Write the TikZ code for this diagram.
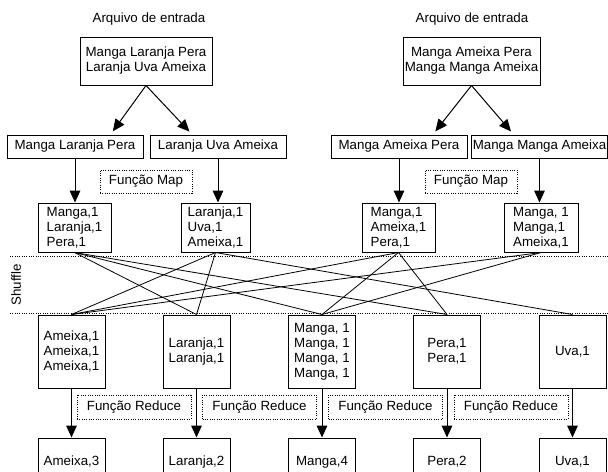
\documentclass[tikz,border=0pt]{standalone}
\usepackage{fontspec}
\setmainfont{Liberation Sans}
\usepackage{tikz}
\usetikzlibrary{arrows.meta,calc}
\tikzset{
  bx/.style={draw,line width=0.75pt,align=center,inner sep=1pt,font=\fontsize{10}{11.25}\selectfont},
  lbl/.style={draw,densely dotted,line width=0.75pt,inner sep=1pt},
  ar/.style={-{Triangle[length=9pt,width=8pt]},line width=0.75pt},
  shf/.style={line width=0.6pt},
  sep/.style={densely dotted,line width=0.75pt}
}

\begin{document}
\begin{tikzpicture}[x=0.75pt,y=-0.75pt]
\useasboundingbox (0,0) rectangle (608,472);
% arquivos de entrada
\node (t1) at (149,19) {Arquivo de entrada};
\node (t2) at (472,19) {Arquivo de entrada};
\node[bx,minimum width=99pt,minimum height=36pt] (in1) at (146,61) {Manga Laranja Pera\\Laranja Uva Ameixa};
\node[bx,minimum width=102.75pt,minimum height=36pt] (in2) at (471.5,61) {Manga Ameixa Pera\\Manga Manga Ameixa};
% divisao
\node[bx,minimum width=102pt,minimum height=17.25pt] (s1) at (75,146.5) {Manga Laranja Pera};
\node[bx,minimum width=102pt,minimum height=17.25pt] (s2) at (218,146.5) {Laranja Uva Ameixa};
\node[bx,minimum width=102pt,minimum height=17.25pt] (s3) at (399,146.5) {Manga Ameixa Pera};
\node[bx,minimum width=101.25pt,minimum height=17.25pt] (s4) at (539.5,146.5) {Manga Manga Ameixa};
\draw[ar,shorten >=3pt] (in1.south) -- ([xshift=-24.75pt]s1.north east);
\draw[ar,shorten >=3pt] (in1.south) -- ([xshift=32pt]s2.north west);
\draw[ar,shorten >=3pt] (in2.south) -- ([xshift=-26pt]s3.north east);
\draw[ar,shorten >=3pt] (in2.south) -- ([xshift=32pt]s4.north west);
% map
\node[lbl,minimum width=69pt,minimum height=17.25pt] (f1) at (146,181.5) {Função Map};
\node[lbl,minimum width=69pt,minimum height=17.25pt] (f2) at (471,181.5) {Função Map};
\node[bx,align=left,minimum width=54.75pt,minimum height=36.75pt] (m1) at (74.5,227.5) {Manga,1\\Laranja,1\\Pera,1};
\node[bx,align=left,minimum width=51.75pt,minimum height=36.75pt] (m2) at (215.5,227.5) {Laranja,1\\Uva,1\\Ameixa,1};
\node[bx,align=left,minimum width=54.75pt,minimum height=36.75pt] (m3) at (398.5,227.5) {Manga,1\\Ameixa,1\\Pera,1};
\node[bx,align=left,minimum width=55.5pt,minimum height=36.75pt] (m4) at (541,227.5) {Manga, 1\\Manga,1\\Ameixa,1};
\draw[ar] (s1.south) -- (s1.south |- m1.north);
\draw[ar] (s2.south) -- (s2.south |- m2.north);
\draw[ar] (s3.south) -- (s3.south |- m3.north);
\draw[ar] (s4.south) -- (s4.south |- m4.north);
% shuffle
\draw[sep] (10,256) -- (608,256);
\draw[sep] (10,313) -- (608,313);
\node[rotate=90] (sh) at (16,285) {Shuffle};
\node[bx,minimum width=50.25pt,minimum height=54.75pt] (r1) at (71.5,351.5) {Ameixa,1\\Ameixa,1\\Ameixa,1};
\node[bx,minimum width=50.25pt,minimum height=54.75pt] (r2) at (196.5,351.5) {Laranja,1\\Laranja,1};
\node[bx,minimum width=50.25pt,minimum height=54.75pt] (r3) at (322,351.5) {Manga, 1\\Manga, 1\\Manga, 1\\Manga, 1};
\node[bx,minimum width=50.25pt,minimum height=54.75pt] (r4) at (447,351.5) {Pera,1\\Pera,1};
\node[bx,minimum width=50.25pt,minimum height=54.75pt] (r5) at (572.5,351.5) {Uva,1};
\foreach \a/\b in {m1/r2,m1/r3,m1/r4,m2/r1,m2/r2,m2/r5,m3/r1,m3/r3,m3/r4,m4/r1,m4/r3}
  \draw[shf] (\a.south) -- (\b.north);
% reduce
\node[lbl,minimum width=85.5pt,minimum height=18pt] (g1) at (134,407) {Função Reduce};
\node[lbl,minimum width=85.5pt,minimum height=18pt] (g2) at (259.5,407) {Função Reduce};
\node[lbl,minimum width=85.5pt,minimum height=18pt] (g3) at (385.5,407) {Função Reduce};
\node[lbl,minimum width=85.5pt,minimum height=18pt] (g4) at (511,407) {Função Reduce};
\node[bx,minimum width=50.25pt,minimum height=36pt] (o1) at (71.5,462) {Ameixa,3};
\node[bx,minimum width=50.25pt,minimum height=36pt] (o2) at (196.5,462) {Laranja,2};
\node[bx,minimum width=50.25pt,minimum height=36pt] (o3) at (322,462) {Manga,4};
\node[bx,minimum width=50.25pt,minimum height=36pt] (o4) at (447,462) {Pera,2};
\node[bx,minimum width=50.25pt,minimum height=36pt] (o5) at (572.5,462) {Uva,1};
\draw[ar] (r1.south) -- (o1.north);
\draw[ar] (r2.south) -- (o2.north);
\draw[ar] (r3.south) -- (o3.north);
\draw[ar] (r4.south) -- (o4.north);
\draw[ar] (r5.south) -- (o5.north);
\end{tikzpicture}
\end{document}
